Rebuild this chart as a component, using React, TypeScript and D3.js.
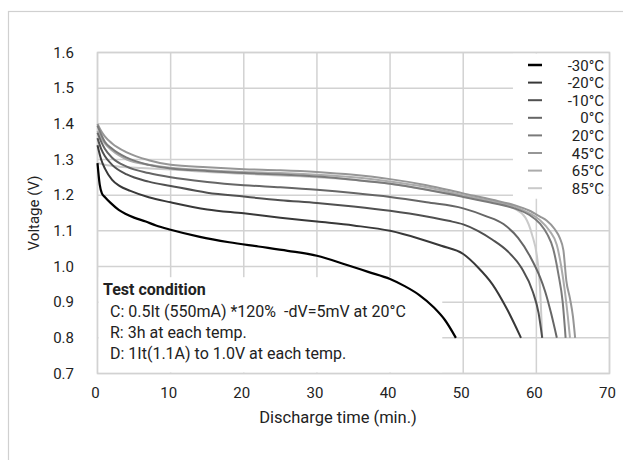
import React from 'react';
import * as d3 from 'd3';

// temperatures (legend order)
const labels = ['-30°C', '-20°C', '-10°C', '0°C', '20°C', '45°C', '65°C', '85°C'];

// discharge time (min.) and voltage (V), one pair of arrays per temperature
const tM30 = [0, 0.3, 0.6, 1, 1.75, 2.9, 3.8, 5, 6.6, 8, 10, 14, 18, 22, 26, 30, 34, 37, 40, 42, 44, 46, 47.5, 49];
const vM30 = [1.29, 1.23, 1.205, 1.195, 1.179, 1.159, 1.148, 1.137, 1.126, 1.115, 1.103, 1.083, 1.068, 1.056, 1.044, 1.03, 1.005, 0.985, 0.965, 0.945, 0.92, 0.885, 0.85, 0.8];

const tM20 = [0, 0.5, 1, 2, 3, 4.5, 7, 10, 15, 20, 25, 30, 35, 40, 44, 47, 50, 52, 54, 56, 57.9];
const vM20 = [1.34, 1.3, 1.275, 1.243, 1.226, 1.212, 1.194, 1.18, 1.16, 1.149, 1.137, 1.126, 1.115, 1.1, 1.078, 1.058, 1.035, 0.998, 0.95, 0.88, 0.8];

const tM10 = [0, 0.5, 1, 2, 4, 7, 10, 15, 20, 25, 30, 35, 40, 45, 48, 50, 52, 54, 56, 58, 59.5, 60.3, 60.8];
const vM10 = [1.36, 1.33, 1.31, 1.285, 1.258, 1.238, 1.226, 1.207, 1.196, 1.186, 1.178, 1.168, 1.156, 1.14, 1.128, 1.118, 1.1, 1.075, 1.044, 0.995, 0.93, 0.87, 0.8];

const tP0 = [0, 0.5, 1, 2, 4, 7, 10, 15, 20, 25, 30, 35, 40, 45, 50, 53, 55.5, 57.5, 59.2, 60.5, 61.2, 62, 62.8];
const vP0 = [1.375, 1.35, 1.33, 1.305, 1.28, 1.262, 1.25, 1.237, 1.228, 1.222, 1.215, 1.206, 1.195, 1.18, 1.163, 1.142, 1.119, 1.08, 1.026, 0.97, 0.93, 0.87, 0.8];

const tP20 = [0, 0.5, 1, 2, 4, 7, 10, 15, 20, 25, 30, 35, 40, 45, 50, 54, 57, 59, 60.5, 61.5, 62.3, 63, 63.6, 64];
const vP20 = [1.395, 1.37, 1.35, 1.33, 1.305, 1.285, 1.275, 1.268, 1.262, 1.258, 1.252, 1.243, 1.232, 1.215, 1.195, 1.178, 1.163, 1.145, 1.12, 1.09, 1.05, 0.98, 0.9, 0.8];

const tP45 = [0, 0.5, 1, 2, 4, 7, 10, 15, 20, 25, 30, 35, 40, 45, 50, 54, 57, 59, 60.5, 61.4, 62.5, 63.2, 63.7, 64.1, 64.6, 65, 65.3];
const vP45 = [1.4, 1.38, 1.365, 1.345, 1.32, 1.298, 1.285, 1.278, 1.273, 1.27, 1.265, 1.257, 1.245, 1.228, 1.205, 1.187, 1.172, 1.157, 1.14, 1.129, 1.105, 1.08, 1.045, 0.96, 0.91, 0.86, 0.8];

const tP65 = [0, 0.5, 1, 2, 4, 7, 10, 15, 20, 25, 30, 35, 40, 45, 50, 54, 57, 59, 60.5, 61.8, 62.8, 63.4, 63.9, 64.3, 64.6];
const vP65 = [1.38, 1.36, 1.345, 1.325, 1.3, 1.285, 1.277, 1.27, 1.265, 1.262, 1.257, 1.25, 1.238, 1.222, 1.2, 1.183, 1.168, 1.15, 1.13, 1.1, 1.06, 1.0, 0.93, 0.86, 0.8];

const tP85 = [0, 1, 3, 6, 10, 15, 20, 25, 30, 35, 40, 45, 50, 54, 57, 58.5, 59.4, 60.1, 60.5, 60.8];
const vP85 = [1.29, 1.285, 1.28, 1.276, 1.272, 1.265, 1.26, 1.255, 1.25, 1.243, 1.232, 1.216, 1.197, 1.18, 1.162, 1.137, 1.09, 1.026, 0.94, 0.8];

const times = [tM30, tM20, tM10, tP0, tP20, tP45, tP65, tP85];
const volts = [vM30, vM20, vM10, vP0, vP20, vP45, vP65, vP85];

const xTicks = [0, 10, 20, 30, 40, 50, 60, 70];
const yTicks = [0.7, 0.8, 0.9, 1.0, 1.1, 1.2, 1.3, 1.4, 1.5, 1.6];

const notes = [
  'C: 0.5It (550mA) *120%  -dV=5mV at 20°C',
  'R: 3h at each temp.',
  'D: 1It(1.1A) to 1.0V at each temp.',
];

const colors = ['#000000', '#383838', '#505050', '#666666', '#7a7a7a', '#969696', '#ababab', '#cacaca'];

const W = 623;
const H = 460;
const left = 97.5;
const right = 609.5;
const top = 52.5;
const bottom = 373.5;
const grid = '#d2d2d2';
const ink = '#222';
const font = 'Roboto, "Noto Sans", sans-serif';

function App() {
  const x = d3.scaleLinear().domain([0, 70]).range([left, right]);
  const y = d3.scaleLinear().domain([0.7, 1.6]).range([bottom, top]);

  const lineGen = d3
    .line<[number, number]>()
    .x((d) => x(d[0]))
    .y((d) => y(d[1]))
    .curve(d3.curveMonotoneX);

  const paths = times.map((ts, i) => lineGen(ts.map((t, j) => [t, volts[i][j]] as [number, number])) || '');

  // white boxes that hide the grid behind the legend and the test condition
  const legendBox = { x0: x(56.8), y0: top, x1: right, y1: y(1.19) };
  const noteBox = { x0: left, y0: y(0.97), x1: x(47), y1: bottom };

  return (
    <svg
      width={W}
      height={H}
      style={{ position: 'absolute', left: 0, top: 0, background: '#fff' }}
      fontFamily={font}
    >
      <rect x={8.5} y={11.5} width={700} height={500} fill="#fff" stroke="#d0d0d0" strokeWidth={1.2} />

      {/* grid */}
      {xTicks.map((t) => (
        <line key={'gx' + t} x1={x(t)} x2={x(t)} y1={top} y2={bottom} stroke={grid} strokeWidth={1.5} />
      ))}
      {yTicks.map((v) => (
        <line key={'gy' + v} x1={left} x2={right} y1={y(v)} y2={y(v)} stroke={grid} strokeWidth={1.5} />
      ))}

      <rect x={legendBox.x0} y={legendBox.y0 + 1} width={legendBox.x1 - legendBox.x0 - 1} height={legendBox.y1 - legendBox.y0 - 1} fill="#fff" />
      <rect x={noteBox.x0 + 1} y={noteBox.y0} width={noteBox.x1 - noteBox.x0} height={noteBox.y1 - noteBox.y0 - 1} fill="#fff" />

      {/* plot frame */}
      <rect x={left} y={top} width={right - left} height={bottom - top} fill="none" stroke={grid} strokeWidth={1.5} />

      {/* curves, lightest at back */}
      {paths
        .map((d, i) => (
          <path key={labels[i]} d={d} fill="none" stroke={colors[i]} strokeWidth={i === 0 ? 2.2 : 2} />
        ))
        .reverse()}

      {/* tick labels and titles */}
      {yTicks.map((v) => (
        <text key={'ty' + v} x={74} y={y(v) + 5} textAnchor="end" fontSize={15} fill={ink}>
          {v.toFixed(1)}
        </text>
      ))}
      {xTicks.map((t) => (
        <text key={'tx' + t} x={x(t) - 2} y={398} textAnchor="middle" fontSize={15} fill={ink}>
          {t}
        </text>
      ))}
      <text x={338} y={423} textAnchor="middle" fontSize={16.5} fill={ink}>
        Discharge time (min.)
      </text>
      <text transform={`translate(39, ${(top + bottom) / 2}) rotate(-90)`} textAnchor="middle" fontSize={15} fill={ink}>
        Voltage (V)
      </text>

      {/* legend */}
      {labels.map((lab, i) => {
        const ly = 65 + i * 17.6;
        return (
          <g key={'lg' + lab}>
            <line x1={528} x2={542} y1={ly} y2={ly} stroke={colors[i]} strokeWidth={i === 0 ? 2.5 : 2} />
            <text x={604} y={ly + 5.5} textAnchor="end" fontSize={15} fill={ink}>
              {lab}
            </text>
          </g>
        );
      })}

      {/* test condition */}
      <text x={103} y={295} fontSize={16} fontWeight="bold" fill={ink}>
        Test condition
      </text>
      {notes.map((n, i) => (
        <text key={'n' + i} x={110} y={317 + i * 21} fontSize={16} fill={ink} style={{ whiteSpace: 'pre' }}>
          {n}
        </text>
      ))}
    </svg>
  );
}

export default App;
